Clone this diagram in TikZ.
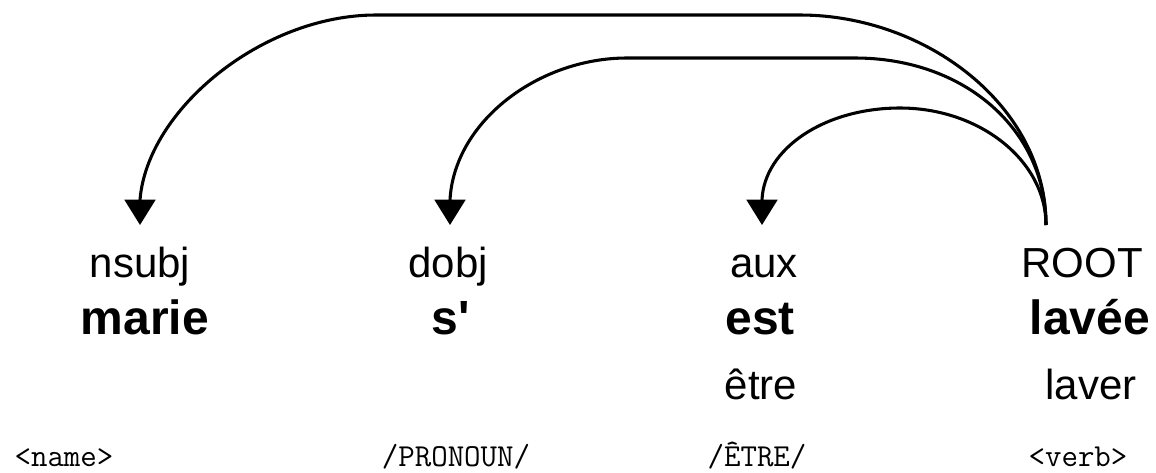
\documentclass[tikz,border=0pt]{standalone}
\usepackage{fontspec}
\setmainfont{Liberation Sans}
\usetikzlibrary{arrows.meta}
\tikzset{
  deprel/.style={anchor=base, inner sep=0pt, font=\fontsize{31.5}{36}\selectfont},
  wordbox/.style={anchor=base, inner sep=0pt, font=\fontsize{36}{42}\selectfont\bfseries},
  lemma/.style={anchor=base, inner sep=0pt, font=\fontsize{31.5}{36}\selectfont},
  tagbox/.style={anchor=base, inner sep=0pt, font=\fontsize{24}{28}\selectfont\ttfamily},
  arc/.style={line width=2.3pt, -{Triangle[width=23pt,length=19pt]}},
}
\begin{document}
\begin{tikzpicture}[x=0.75pt, y=-0.75pt]
\useasboundingbox (0,0) rectangle (1156,472);
% arc end points
\coordinate (root) at (1046,225);
\coordinate (tip1) at (140,225);
\coordinate (tip2) at (450,225);
\coordinate (tip3) at (762,225);
% relation labels
\node[deprel] (r1) at (140,277) {nsubj};
\node[deprel] (r2) at (448,277) {dobj};
\node[deprel] (r3) at (764,277) {aux};
\node[deprel] (r4) at (1082,277) {ROOT};
% words
\node[wordbox] (w1) at (145,334) {marie};
\node[wordbox] (w2) at (451,334) {s\textquotesingle};
\node[wordbox] (w3) at (760,334) {est};
\node[wordbox] (w4) at (1090,334) {lavée};
% lemmas
\node[lemma] (l3) at (761,399) {être};
\node[lemma] (l4) at (1091,399) {laver};
% tags
\node[tagbox] (t1) at (64,466) {<name>};
\node[tagbox] (t2) at (456,466) {/PRONOUN/};
\node[tagbox] (t3) at (757,466) {/ÊTRE/};
\node[tagbox] (t4) at (1078,466) {<verb>};
% arcs
\draw[arc] (root) .. controls (1046,105) and (925,15) .. (800,15) -- (376,15)
  .. controls (262,15) and (147,110) .. (140,200) -- (tip1);
\draw[arc] (root) .. controls (1046,130) and (965,58) .. (855,58) -- (627,58)
  .. controls (538,58) and (454,122) .. (450,200) -- (tip2);
\draw[arc] (root) .. controls (1046,161) and (980,108) .. (900,108)
  .. controls (824,108) and (764,149) .. (762,200) -- (tip3);
\end{tikzpicture}
\end{document}
